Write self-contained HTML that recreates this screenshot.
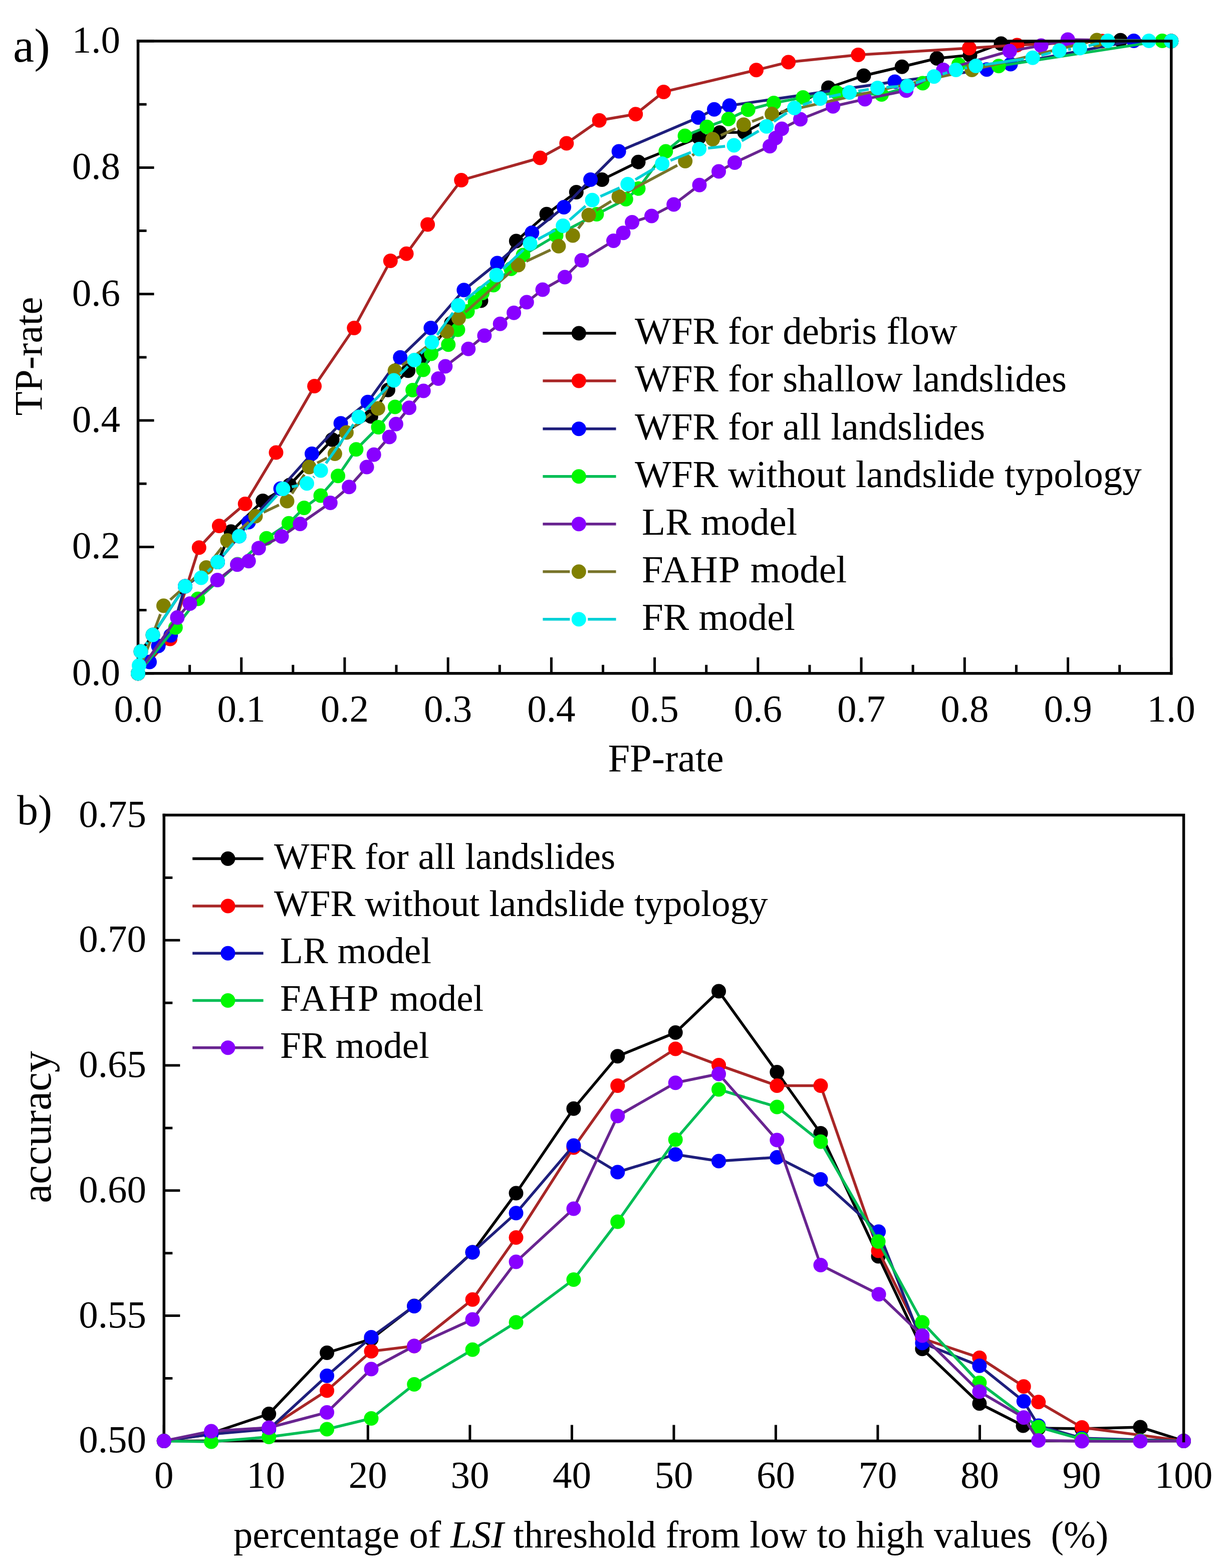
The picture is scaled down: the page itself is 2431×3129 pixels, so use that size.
<!DOCTYPE html>
<html><head><meta charset="utf-8"><title>ROC and accuracy curves</title>
<style>html,body{margin:0;padding:0;background:#fff;} svg{display:block;}</style>
</head><body>
<svg width="2431" height="3129" viewBox="0 0 2431 3129"><rect width="100%" height="100%" fill="#fff"/><path d="M275.5 1343.8 h32 M275.5 1217.6 h17 M275.5 1091.4 h32 M275.5 965.3 h17 M275.5 839.1 h32 M275.5 712.9 h17 M275.5 586.7 h32 M275.5 460.5 h17 M275.5 334.4 h32 M275.5 208.2 h17 M275.5 82 h32 M275.5 1343.8 v-32 M378.6 1343.8 v-17 M481.7 1343.8 v-32 M584.8 1343.8 v-17 M687.9 1343.8 v-32 M791 1343.8 v-17 M894.2 1343.8 v-32 M997.3 1343.8 v-17 M1100.4 1343.8 v-32 M1203.5 1343.8 v-17 M1306.6 1343.8 v-32 M1409.7 1343.8 v-17 M1512.8 1343.8 v-32 M1615.9 1343.8 v-17 M1719 1343.8 v-32 M1822.1 1343.8 v-17 M1925.3 1343.8 v-32 M2028.4 1343.8 v-17 M2131.5 1343.8 v-32 M2234.6 1343.8 v-17 M2337.7 1343.8 v-32" stroke="#000" stroke-width="5" fill="none"/><path d="M275.5 79.2 V1343.8 H2340.4" stroke="#000" stroke-width="5.5" fill="none"/><path d="M275.5 1343.8 L281 1300 L305 1267 L369.5 1170 L434.5 1121.5 L461 1060.8 L524.6 999.5 L578 968 L663.1 877.3 L740.4 831 L774.5 778.3 L814.7 739.7 L845 714 L900.7 645 L960 600 L1030.3 481 L1091 427.2 L1150.3 383.4 L1201.5 358.6 L1274 323.2 L1395 274.5 L1436.5 264.5 L1486 264 L1653.5 175 L1724 151 L1800.2 133.2 L1870 116.5 L1936 110 L1998 87 L2236.3 80.2 L2337.7 82" fill="none" stroke="#000000" stroke-width="5.5" stroke-linejoin="round"/>
<g fill="#000000"><circle cx="275.5" cy="1343.8" r="14.5"/><circle cx="281" cy="1300" r="14.5"/><circle cx="305" cy="1267" r="14.5"/><circle cx="369.5" cy="1170" r="14.5"/><circle cx="434.5" cy="1121.5" r="14.5"/><circle cx="461" cy="1060.8" r="14.5"/><circle cx="524.6" cy="999.5" r="14.5"/><circle cx="578" cy="968" r="14.5"/><circle cx="663.1" cy="877.3" r="14.5"/><circle cx="740.4" cy="831" r="14.5"/><circle cx="774.5" cy="778.3" r="14.5"/><circle cx="814.7" cy="739.7" r="14.5"/><circle cx="845" cy="714" r="14.5"/><circle cx="900.7" cy="645" r="14.5"/><circle cx="960" cy="600" r="14.5"/><circle cx="1030.3" cy="481" r="14.5"/><circle cx="1091" cy="427.2" r="14.5"/><circle cx="1150.3" cy="383.4" r="14.5"/><circle cx="1201.5" cy="358.6" r="14.5"/><circle cx="1274" cy="323.2" r="14.5"/><circle cx="1395" cy="274.5" r="14.5"/><circle cx="1436.5" cy="264.5" r="14.5"/><circle cx="1486" cy="264" r="14.5"/><circle cx="1653.5" cy="175" r="14.5"/><circle cx="1724" cy="151" r="14.5"/><circle cx="1800.2" cy="133.2" r="14.5"/><circle cx="1870" cy="116.5" r="14.5"/><circle cx="1936" cy="110" r="14.5"/><circle cx="1998" cy="87" r="14.5"/><circle cx="2236.3" cy="80.2" r="14.5"/><circle cx="2337.7" cy="82" r="14.5"/></g>
<path d="M275.5 1343.8 L339.5 1275 L397.3 1092.7 L437.4 1049.6 L489.2 1005.5 L551 903 L627.6 770.5 L706.8 654.5 L779.3 520.5 L811.1 506.3 L853.6 448 L920.7 359.6 L1077.9 315 L1130.8 286.1 L1196.2 240.2 L1268.7 227.8 L1324.5 183.4 L1509.5 139.8 L1573.6 124 L1712.8 109.6 L1934.5 96 L2030 90 L2200 82 L2337.7 82" fill="none" stroke="#a82626" stroke-width="5.5" stroke-linejoin="round"/>
<g fill="#ff0000"><circle cx="275.5" cy="1343.8" r="14.5"/><circle cx="339.5" cy="1275" r="14.5"/><circle cx="397.3" cy="1092.7" r="14.5"/><circle cx="437.4" cy="1049.6" r="14.5"/><circle cx="489.2" cy="1005.5" r="14.5"/><circle cx="551" cy="903" r="14.5"/><circle cx="627.6" cy="770.5" r="14.5"/><circle cx="706.8" cy="654.5" r="14.5"/><circle cx="779.3" cy="520.5" r="14.5"/><circle cx="811.1" cy="506.3" r="14.5"/><circle cx="853.6" cy="448" r="14.5"/><circle cx="920.7" cy="359.6" r="14.5"/><circle cx="1077.9" cy="315" r="14.5"/><circle cx="1130.8" cy="286.1" r="14.5"/><circle cx="1196.2" cy="240.2" r="14.5"/><circle cx="1268.7" cy="227.8" r="14.5"/><circle cx="1324.5" cy="183.4" r="14.5"/><circle cx="1509.5" cy="139.8" r="14.5"/><circle cx="1573.6" cy="124" r="14.5"/><circle cx="1712.8" cy="109.6" r="14.5"/><circle cx="1934.5" cy="96" r="14.5"/><circle cx="2030" cy="90" r="14.5"/><circle cx="2200" cy="82" r="14.5"/><circle cx="2337.7" cy="82" r="14.5"/></g>
<path d="M275.5 1343.8 L298.5 1321 L316 1289 L340.6 1268 L369.5 1170 L434.5 1121.5 L477.4 1070 L496.3 1041.9 L560 975 L622.5 905.6 L680.1 844.8 L734.1 802.3 L798.8 713.2 L859.9 654.5 L925.9 578.8 L992.6 525 L1061.7 464.5 L1125.5 413.4 L1178.6 358.6 L1235.1 302 L1393.6 234.6 L1425.5 218.3 L1456 210.7 L1786 163 L1969.4 138.8 L2017 128 L2262.9 81.4 L2337.7 82" fill="none" stroke="#1e1e7c" stroke-width="5.5" stroke-linejoin="round"/>
<g fill="#0000ff"><circle cx="275.5" cy="1343.8" r="14.5"/><circle cx="298.5" cy="1321" r="14.5"/><circle cx="316" cy="1289" r="14.5"/><circle cx="340.6" cy="1268" r="14.5"/><circle cx="369.5" cy="1170" r="14.5"/><circle cx="434.5" cy="1121.5" r="14.5"/><circle cx="477.4" cy="1070" r="14.5"/><circle cx="496.3" cy="1041.9" r="14.5"/><circle cx="560" cy="975" r="14.5"/><circle cx="622.5" cy="905.6" r="14.5"/><circle cx="680.1" cy="844.8" r="14.5"/><circle cx="734.1" cy="802.3" r="14.5"/><circle cx="798.8" cy="713.2" r="14.5"/><circle cx="859.9" cy="654.5" r="14.5"/><circle cx="925.9" cy="578.8" r="14.5"/><circle cx="992.6" cy="525" r="14.5"/><circle cx="1061.7" cy="464.5" r="14.5"/><circle cx="1125.5" cy="413.4" r="14.5"/><circle cx="1178.6" cy="358.6" r="14.5"/><circle cx="1235.1" cy="302" r="14.5"/><circle cx="1393.6" cy="234.6" r="14.5"/><circle cx="1425.5" cy="218.3" r="14.5"/><circle cx="1456" cy="210.7" r="14.5"/><circle cx="1786" cy="163" r="14.5"/><circle cx="1969.4" cy="138.8" r="14.5"/><circle cx="2017" cy="128" r="14.5"/><circle cx="2262.9" cy="81.4" r="14.5"/><circle cx="2337.7" cy="82" r="14.5"/></g>
<path d="M275.5 1343.8 L350.3 1252.3 L394.9 1195.1 L474 1126 L531.9 1074.2 L576.4 1044.3 L607 1013.4 L640 989 L674.6 949.8 L710.9 896.7 L755 852.5 L788.4 812 L823.7 778.5 L844.7 737.9 L860.6 706.1 L894.8 687.8 L914 658 L933.1 621.5 L948 603 L962.6 584.7 L985 569 L1019.7 536.4 L1044 509 L1110 470 L1190.9 427.6 L1249.3 397.5 L1274 376.3 L1328.8 302 L1367 271 L1411 253.3 L1454 237.4 L1493.2 219 L1544.4 205.5 L1602.7 194.5 L1670.6 185 L1759.5 188.6 L1841.7 166.1 L1913.3 129 L1993.2 131.8 L2319.7 81.4 L2337.7 82" fill="none" stroke="#00be55" stroke-width="5.5" stroke-linejoin="round"/>
<g fill="#00f800"><circle cx="275.5" cy="1343.8" r="14.5"/><circle cx="350.3" cy="1252.3" r="14.5"/><circle cx="394.9" cy="1195.1" r="14.5"/><circle cx="474" cy="1126" r="14.5"/><circle cx="531.9" cy="1074.2" r="14.5"/><circle cx="576.4" cy="1044.3" r="14.5"/><circle cx="607" cy="1013.4" r="14.5"/><circle cx="640" cy="989" r="14.5"/><circle cx="674.6" cy="949.8" r="14.5"/><circle cx="710.9" cy="896.7" r="14.5"/><circle cx="755" cy="852.5" r="14.5"/><circle cx="788.4" cy="812" r="14.5"/><circle cx="823.7" cy="778.5" r="14.5"/><circle cx="844.7" cy="737.9" r="14.5"/><circle cx="860.6" cy="706.1" r="14.5"/><circle cx="894.8" cy="687.8" r="14.5"/><circle cx="914" cy="658" r="14.5"/><circle cx="933.1" cy="621.5" r="14.5"/><circle cx="948" cy="603" r="14.5"/><circle cx="962.6" cy="584.7" r="14.5"/><circle cx="985" cy="569" r="14.5"/><circle cx="1019.7" cy="536.4" r="14.5"/><circle cx="1044" cy="509" r="14.5"/><circle cx="1110" cy="470" r="14.5"/><circle cx="1190.9" cy="427.6" r="14.5"/><circle cx="1249.3" cy="397.5" r="14.5"/><circle cx="1274" cy="376.3" r="14.5"/><circle cx="1328.8" cy="302" r="14.5"/><circle cx="1367" cy="271" r="14.5"/><circle cx="1411" cy="253.3" r="14.5"/><circle cx="1454" cy="237.4" r="14.5"/><circle cx="1493.2" cy="219" r="14.5"/><circle cx="1544.4" cy="205.5" r="14.5"/><circle cx="1602.7" cy="194.5" r="14.5"/><circle cx="1670.6" cy="185" r="14.5"/><circle cx="1759.5" cy="188.6" r="14.5"/><circle cx="1841.7" cy="166.1" r="14.5"/><circle cx="1913.3" cy="129" r="14.5"/><circle cx="1993.2" cy="131.8" r="14.5"/><circle cx="2319.7" cy="81.4" r="14.5"/><circle cx="2337.7" cy="82" r="14.5"/></g>
<path d="M275.5 1343.8 L353.9 1232.2 L379 1204.5 L434 1157.6 L473.5 1126.7 L496.3 1119.7 L516.3 1093.8 L562 1070.4 L598.9 1045.4 L659.3 1003.5 L696.7 971.8 L732.1 932.1 L746.2 907.3 L777.2 872 L790.4 846.3 L816.6 813.8 L845.2 780.1 L874.8 755.6 L888.9 730.9 L934.8 696.2 L966.9 669.7 L998.2 646.3 L1025.6 624.2 L1051.3 603 L1083 578 L1127.3 553.1 L1160.9 519.5 L1224.5 480.6 L1244 464.7 L1261.6 443.5 L1300.5 431.1 L1344.7 408.1 L1396 369.2 L1434.5 342 L1466.5 324.6 L1536.5 291.8 L1548 275.5 L1560.4 257 L1597.5 238 L1662.6 212.3 L1726.3 197.9 L1808.5 180.7 L1882.8 139.6 L2015.2 102 L2078 91 L2131.2 79 L2337.7 82" fill="none" stroke="#682490" stroke-width="5.5" stroke-linejoin="round"/>
<g fill="#8800ff"><circle cx="275.5" cy="1343.8" r="14.5"/><circle cx="353.9" cy="1232.2" r="14.5"/><circle cx="379" cy="1204.5" r="14.5"/><circle cx="434" cy="1157.6" r="14.5"/><circle cx="473.5" cy="1126.7" r="14.5"/><circle cx="496.3" cy="1119.7" r="14.5"/><circle cx="516.3" cy="1093.8" r="14.5"/><circle cx="562" cy="1070.4" r="14.5"/><circle cx="598.9" cy="1045.4" r="14.5"/><circle cx="659.3" cy="1003.5" r="14.5"/><circle cx="696.7" cy="971.8" r="14.5"/><circle cx="732.1" cy="932.1" r="14.5"/><circle cx="746.2" cy="907.3" r="14.5"/><circle cx="777.2" cy="872" r="14.5"/><circle cx="790.4" cy="846.3" r="14.5"/><circle cx="816.6" cy="813.8" r="14.5"/><circle cx="845.2" cy="780.1" r="14.5"/><circle cx="874.8" cy="755.6" r="14.5"/><circle cx="888.9" cy="730.9" r="14.5"/><circle cx="934.8" cy="696.2" r="14.5"/><circle cx="966.9" cy="669.7" r="14.5"/><circle cx="998.2" cy="646.3" r="14.5"/><circle cx="1025.6" cy="624.2" r="14.5"/><circle cx="1051.3" cy="603" r="14.5"/><circle cx="1083" cy="578" r="14.5"/><circle cx="1127.3" cy="553.1" r="14.5"/><circle cx="1160.9" cy="519.5" r="14.5"/><circle cx="1224.5" cy="480.6" r="14.5"/><circle cx="1244" cy="464.7" r="14.5"/><circle cx="1261.6" cy="443.5" r="14.5"/><circle cx="1300.5" cy="431.1" r="14.5"/><circle cx="1344.7" cy="408.1" r="14.5"/><circle cx="1396" cy="369.2" r="14.5"/><circle cx="1434.5" cy="342" r="14.5"/><circle cx="1466.5" cy="324.6" r="14.5"/><circle cx="1536.5" cy="291.8" r="14.5"/><circle cx="1548" cy="275.5" r="14.5"/><circle cx="1560.4" cy="257" r="14.5"/><circle cx="1597.5" cy="238" r="14.5"/><circle cx="1662.6" cy="212.3" r="14.5"/><circle cx="1726.3" cy="197.9" r="14.5"/><circle cx="1808.5" cy="180.7" r="14.5"/><circle cx="1882.8" cy="139.6" r="14.5"/><circle cx="2015.2" cy="102" r="14.5"/><circle cx="2078" cy="91" r="14.5"/><circle cx="2131.2" cy="79" r="14.5"/><circle cx="2337.7" cy="82" r="14.5"/></g>
<mask id="g1" maskUnits="userSpaceOnUse" x="0" y="0" width="2431" height="3129"><rect width="2431" height="3129" fill="#fff"/><circle cx="275.5" cy="1343.8" r="18.0" fill="#000"/><circle cx="326.5" cy="1208.8" r="18.0" fill="#000"/><circle cx="411.7" cy="1132.5" r="18.0" fill="#000"/><circle cx="453.9" cy="1078.5" r="18.0" fill="#000"/><circle cx="510" cy="1030" r="18.0" fill="#000"/><circle cx="573" cy="1000" r="18.0" fill="#000"/><circle cx="617.2" cy="932.1" r="18.0" fill="#000"/><circle cx="668.4" cy="905.6" r="18.0" fill="#000"/><circle cx="691.4" cy="863.1" r="18.0" fill="#000"/><circle cx="754.4" cy="815" r="18.0" fill="#000"/><circle cx="788.2" cy="739.7" r="18.0" fill="#000"/><circle cx="891.9" cy="661.3" r="18.0" fill="#000"/><circle cx="915.4" cy="635" r="18.0" fill="#000"/><circle cx="1034.3" cy="529" r="18.0" fill="#000"/><circle cx="1114.9" cy="491.2" r="18.0" fill="#000"/><circle cx="1143.2" cy="470" r="18.0" fill="#000"/><circle cx="1175" cy="429.3" r="18.0" fill="#000"/><circle cx="1235.1" cy="392.2" r="18.0" fill="#000"/><circle cx="1367.7" cy="321.5" r="18.0" fill="#000"/><circle cx="1422.5" cy="277.8" r="18.0" fill="#000"/><circle cx="1484.3" cy="248.7" r="18.0" fill="#000"/><circle cx="1540.6" cy="227.5" r="18.0" fill="#000"/><circle cx="1939.8" cy="139.6" r="18.0" fill="#000"/><circle cx="2189.2" cy="80" r="18.0" fill="#000"/><circle cx="2337.7" cy="82" r="18.0" fill="#000"/></mask><path d="M275.5 1343.8 L326.5 1208.8 L411.7 1132.5 L453.9 1078.5 L510 1030 L573 1000 L617.2 932.1 L668.4 905.6 L691.4 863.1 L754.4 815 L788.2 739.7 L891.9 661.3 L915.4 635 L1034.3 529 L1114.9 491.2 L1143.2 470 L1175 429.3 L1235.1 392.2 L1367.7 321.5 L1422.5 277.8 L1484.3 248.7 L1540.6 227.5 L1939.8 139.6 L2189.2 80 L2337.7 82" fill="none" stroke="#78742a" stroke-width="5.5" stroke-linejoin="round" mask="url(#g1)"/>
<g fill="#808000"><circle cx="275.5" cy="1343.8" r="14.5"/><circle cx="326.5" cy="1208.8" r="14.5"/><circle cx="411.7" cy="1132.5" r="14.5"/><circle cx="453.9" cy="1078.5" r="14.5"/><circle cx="510" cy="1030" r="14.5"/><circle cx="573" cy="1000" r="14.5"/><circle cx="617.2" cy="932.1" r="14.5"/><circle cx="668.4" cy="905.6" r="14.5"/><circle cx="691.4" cy="863.1" r="14.5"/><circle cx="754.4" cy="815" r="14.5"/><circle cx="788.2" cy="739.7" r="14.5"/><circle cx="891.9" cy="661.3" r="14.5"/><circle cx="915.4" cy="635" r="14.5"/><circle cx="1034.3" cy="529" r="14.5"/><circle cx="1114.9" cy="491.2" r="14.5"/><circle cx="1143.2" cy="470" r="14.5"/><circle cx="1175" cy="429.3" r="14.5"/><circle cx="1235.1" cy="392.2" r="14.5"/><circle cx="1367.7" cy="321.5" r="14.5"/><circle cx="1422.5" cy="277.8" r="14.5"/><circle cx="1484.3" cy="248.7" r="14.5"/><circle cx="1540.6" cy="227.5" r="14.5"/><circle cx="1939.8" cy="139.6" r="14.5"/><circle cx="2189.2" cy="80" r="14.5"/><circle cx="2337.7" cy="82" r="14.5"/></g>
<mask id="g2" maskUnits="userSpaceOnUse" x="0" y="0" width="2431" height="3129"><rect width="2431" height="3129" fill="#fff"/><circle cx="275.5" cy="1343.8" r="18.0" fill="#000"/><circle cx="277.5" cy="1328" r="18.0" fill="#000"/><circle cx="281" cy="1300" r="18.0" fill="#000"/><circle cx="305" cy="1267" r="18.0" fill="#000"/><circle cx="369.5" cy="1170" r="18.0" fill="#000"/><circle cx="401.5" cy="1153" r="18.0" fill="#000"/><circle cx="434.5" cy="1121.5" r="18.0" fill="#000"/><circle cx="477.4" cy="1070" r="18.0" fill="#000"/><circle cx="565" cy="975.5" r="18.0" fill="#000"/><circle cx="612.5" cy="964.8" r="18.0" fill="#000"/><circle cx="640.2" cy="939.1" r="18.0" fill="#000"/><circle cx="716" cy="832" r="18.0" fill="#000"/><circle cx="786" cy="759" r="18.0" fill="#000"/><circle cx="827" cy="718.5" r="18.0" fill="#000"/><circle cx="862" cy="683" r="18.0" fill="#000"/><circle cx="914.5" cy="609.5" r="18.0" fill="#000"/><circle cx="991" cy="549" r="18.0" fill="#000"/><circle cx="1058" cy="486" r="18.0" fill="#000"/><circle cx="1123.7" cy="450.5" r="18.0" fill="#000"/><circle cx="1182.1" cy="399.3" r="18.0" fill="#000"/><circle cx="1252.8" cy="367.4" r="18.0" fill="#000"/><circle cx="1321.7" cy="326.8" r="18.0" fill="#000"/><circle cx="1395.5" cy="297.5" r="18.0" fill="#000"/><circle cx="1465" cy="290" r="18.0" fill="#000"/><circle cx="1529.8" cy="252.3" r="18.0" fill="#000"/><circle cx="1585.5" cy="215.5" r="18.0" fill="#000"/><circle cx="1637" cy="196.8" r="18.0" fill="#000"/><circle cx="1695.5" cy="184.5" r="18.0" fill="#000"/><circle cx="1751.5" cy="175.4" r="18.0" fill="#000"/><circle cx="1811.2" cy="171.4" r="18.0" fill="#000"/><circle cx="1864.2" cy="152.8" r="18.0" fill="#000"/><circle cx="1908" cy="139.6" r="18.0" fill="#000"/><circle cx="1947.8" cy="131.6" r="18.0" fill="#000"/><circle cx="2061.1" cy="115.2" r="18.0" fill="#000"/><circle cx="2114.3" cy="100.7" r="18.0" fill="#000"/><circle cx="2155.4" cy="95.9" r="18.0" fill="#000"/><circle cx="2211" cy="81.4" r="18.0" fill="#000"/><circle cx="2293" cy="81.4" r="18.0" fill="#000"/><circle cx="2337.7" cy="82" r="18.0" fill="#000"/></mask><path d="M275.5 1343.8 L277.5 1328 L281 1300 L305 1267 L369.5 1170 L401.5 1153 L434.5 1121.5 L477.4 1070 L565 975.5 L612.5 964.8 L640.2 939.1 L716 832 L786 759 L827 718.5 L862 683 L914.5 609.5 L991 549 L1058 486 L1123.7 450.5 L1182.1 399.3 L1252.8 367.4 L1321.7 326.8 L1395.5 297.5 L1465 290 L1529.8 252.3 L1585.5 215.5 L1637 196.8 L1695.5 184.5 L1751.5 175.4 L1811.2 171.4 L1864.2 152.8 L1908 139.6 L1947.8 131.6 L2061.1 115.2 L2114.3 100.7 L2155.4 95.9 L2211 81.4 L2293 81.4 L2337.7 82" fill="none" stroke="#00d0d6" stroke-width="5.5" stroke-linejoin="round" mask="url(#g2)"/>
<g fill="#00ffff"><circle cx="275.5" cy="1343.8" r="14.5"/><circle cx="277.5" cy="1328" r="14.5"/><circle cx="281" cy="1300" r="14.5"/><circle cx="305" cy="1267" r="14.5"/><circle cx="369.5" cy="1170" r="14.5"/><circle cx="401.5" cy="1153" r="14.5"/><circle cx="434.5" cy="1121.5" r="14.5"/><circle cx="477.4" cy="1070" r="14.5"/><circle cx="565" cy="975.5" r="14.5"/><circle cx="612.5" cy="964.8" r="14.5"/><circle cx="640.2" cy="939.1" r="14.5"/><circle cx="716" cy="832" r="14.5"/><circle cx="786" cy="759" r="14.5"/><circle cx="827" cy="718.5" r="14.5"/><circle cx="862" cy="683" r="14.5"/><circle cx="914.5" cy="609.5" r="14.5"/><circle cx="991" cy="549" r="14.5"/><circle cx="1058" cy="486" r="14.5"/><circle cx="1123.7" cy="450.5" r="14.5"/><circle cx="1182.1" cy="399.3" r="14.5"/><circle cx="1252.8" cy="367.4" r="14.5"/><circle cx="1321.7" cy="326.8" r="14.5"/><circle cx="1395.5" cy="297.5" r="14.5"/><circle cx="1465" cy="290" r="14.5"/><circle cx="1529.8" cy="252.3" r="14.5"/><circle cx="1585.5" cy="215.5" r="14.5"/><circle cx="1637" cy="196.8" r="14.5"/><circle cx="1695.5" cy="184.5" r="14.5"/><circle cx="1751.5" cy="175.4" r="14.5"/><circle cx="1811.2" cy="171.4" r="14.5"/><circle cx="1864.2" cy="152.8" r="14.5"/><circle cx="1908" cy="139.6" r="14.5"/><circle cx="1947.8" cy="131.6" r="14.5"/><circle cx="2061.1" cy="115.2" r="14.5"/><circle cx="2114.3" cy="100.7" r="14.5"/><circle cx="2155.4" cy="95.9" r="14.5"/><circle cx="2211" cy="81.4" r="14.5"/><circle cx="2293" cy="81.4" r="14.5"/><circle cx="2337.7" cy="82" r="14.5"/></g>
<path d="M272.8 82 H2337.7 V1346.5" stroke="#000" stroke-width="5.5" fill="none"/><text x="240" y="1366.8" font-family="'Liberation Serif', serif" font-size="77" text-anchor="end">0.0</text><text x="240" y="1114.4" font-family="'Liberation Serif', serif" font-size="77" text-anchor="end">0.2</text><text x="240" y="862.1" font-family="'Liberation Serif', serif" font-size="77" text-anchor="end">0.4</text><text x="240" y="609.7" font-family="'Liberation Serif', serif" font-size="77" text-anchor="end">0.6</text><text x="240" y="357.4" font-family="'Liberation Serif', serif" font-size="77" text-anchor="end">0.8</text><text x="240" y="105" font-family="'Liberation Serif', serif" font-size="77" text-anchor="end">1.0</text><text x="275.5" y="1440" font-family="'Liberation Serif', serif" font-size="77" text-anchor="middle">0.0</text><text x="481.7" y="1440" font-family="'Liberation Serif', serif" font-size="77" text-anchor="middle">0.1</text><text x="687.9" y="1440" font-family="'Liberation Serif', serif" font-size="77" text-anchor="middle">0.2</text><text x="894.2" y="1440" font-family="'Liberation Serif', serif" font-size="77" text-anchor="middle">0.3</text><text x="1100.4" y="1440" font-family="'Liberation Serif', serif" font-size="77" text-anchor="middle">0.4</text><text x="1306.6" y="1440" font-family="'Liberation Serif', serif" font-size="77" text-anchor="middle">0.5</text><text x="1512.8" y="1440" font-family="'Liberation Serif', serif" font-size="77" text-anchor="middle">0.6</text><text x="1719" y="1440" font-family="'Liberation Serif', serif" font-size="77" text-anchor="middle">0.7</text><text x="1925.3" y="1440" font-family="'Liberation Serif', serif" font-size="77" text-anchor="middle">0.8</text><text x="2131.5" y="1440" font-family="'Liberation Serif', serif" font-size="77" text-anchor="middle">0.9</text><text x="2337.7" y="1440" font-family="'Liberation Serif', serif" font-size="77" text-anchor="middle">1.0</text><text x="1329" y="1539" font-family="'Liberation Serif', serif" font-size="78.5" text-anchor="middle">FP-rate</text><text transform="translate(83 711) rotate(-90)" font-family="'Liberation Serif', serif" font-size="79" text-anchor="middle">TP-rate</text><text x="26" y="122.5" font-family="'Liberation Serif', serif" font-size="95">a)</text><line x1="1083.4" y1="665" x2="1229.5" y2="665" stroke="#000000" stroke-width="5.5"/><circle cx="1155.3" cy="665" r="14.5" fill="#000000"/>
<text x="1267" y="686" font-family="'Liberation Serif', serif" font-size="77">WFR for debris flow</text><line x1="1083.4" y1="759.9" x2="1229.5" y2="759.9" stroke="#a82626" stroke-width="5.5"/><circle cx="1155.3" cy="759.9" r="14.5" fill="#ff0000"/>
<text x="1267" y="780.9" font-family="'Liberation Serif', serif" font-size="77">WFR for shallow landslides</text><line x1="1083.4" y1="855.7" x2="1229.5" y2="855.7" stroke="#1e1e7c" stroke-width="5.5"/><circle cx="1155.3" cy="855.7" r="14.5" fill="#0000ff"/>
<text x="1267" y="876.7" font-family="'Liberation Serif', serif" font-size="77">WFR for all landslides</text><line x1="1083.4" y1="950.8" x2="1229.5" y2="950.8" stroke="#00be55" stroke-width="5.5"/><circle cx="1155.3" cy="950.8" r="14.5" fill="#00f800"/>
<text x="1267" y="971.8" font-family="'Liberation Serif', serif" font-size="77">WFR without landslide typology</text><line x1="1083.4" y1="1045.7" x2="1229.5" y2="1045.7" stroke="#682490" stroke-width="5.5"/><circle cx="1155.3" cy="1045.7" r="14.5" fill="#8800ff"/>
<text x="1281" y="1066.7" font-family="'Liberation Serif', serif" font-size="77">LR model</text><line x1="1083.4" y1="1140.7" x2="1137.3" y2="1140.7" stroke="#78742a" stroke-width="5.5"/><line x1="1173.3" y1="1140.7" x2="1229.5" y2="1140.7" stroke="#78742a" stroke-width="5.5"/><circle cx="1155.3" cy="1140.7" r="14.5" fill="#808000"/>
<text x="1281" y="1161.7" font-family="'Liberation Serif', serif" font-size="77"><tspan letter-spacing="1.6">FAHP</tspan> model</text><line x1="1083.4" y1="1235.7" x2="1137.3" y2="1235.7" stroke="#00d0d6" stroke-width="5.5"/><line x1="1173.3" y1="1235.7" x2="1229.5" y2="1235.7" stroke="#00d0d6" stroke-width="5.5"/><circle cx="1155.3" cy="1235.7" r="14.5" fill="#00ffff"/>
<text x="1281" y="1256.7" font-family="'Liberation Serif', serif" font-size="77">FR model</text><path d="M327.3 2875.4 h32 M327.3 2750.5 h17 M327.3 2625.6 h32 M327.3 2500.7 h17 M327.3 2375.8 h32 M327.3 2250.9 h17 M327.3 2126.1 h32 M327.3 2001.2 h17 M327.3 1876.3 h32 M327.3 1751.4 h17 M327.3 1626.5 h32 M327.3 2875.4 v-32 M530.8 2875.4 v-32 M734.3 2875.4 v-32 M937.9 2875.4 v-32 M1141.4 2875.4 v-32 M1344.9 2875.4 v-32 M1548.4 2875.4 v-32 M1751.9 2875.4 v-32 M1955.5 2875.4 v-32 M2159 2875.4 v-32 M2362.5 2875.4 v-32" stroke="#000" stroke-width="5" fill="none"/><path d="M327.3 1623.8 V2875.4 H2365.2" stroke="#000" stroke-width="5.5" fill="none"/><path d="M327.3 2875.4 L421.6 2860 L536.7 2821.5 L652.6 2699.6 L741 2672 L826.7 2606 L943.1 2499 L1030 2381 L1144.9 2212.3 L1232.7 2107.7 L1348.2 2060.6 L1434.5 1978.1 L1550.8 2139.5 L1637.9 2261.5 L1753 2507 L1840.8 2691.7 L1954.9 2800.7 L2042 2845 L2072.7 2850 L2159 2851 L2275.9 2848 L2362.5 2875.4" fill="none" stroke="#000000" stroke-width="5.5" stroke-linejoin="round"/>
<g fill="#000000"><circle cx="327.3" cy="2875.4" r="14.5"/><circle cx="421.6" cy="2860" r="14.5"/><circle cx="536.7" cy="2821.5" r="14.5"/><circle cx="652.6" cy="2699.6" r="14.5"/><circle cx="741" cy="2672" r="14.5"/><circle cx="826.7" cy="2606" r="14.5"/><circle cx="943.1" cy="2499" r="14.5"/><circle cx="1030" cy="2381" r="14.5"/><circle cx="1144.9" cy="2212.3" r="14.5"/><circle cx="1232.7" cy="2107.7" r="14.5"/><circle cx="1348.2" cy="2060.6" r="14.5"/><circle cx="1434.5" cy="1978.1" r="14.5"/><circle cx="1550.8" cy="2139.5" r="14.5"/><circle cx="1637.9" cy="2261.5" r="14.5"/><circle cx="1753" cy="2507" r="14.5"/><circle cx="1840.8" cy="2691.7" r="14.5"/><circle cx="1954.9" cy="2800.7" r="14.5"/><circle cx="2042" cy="2845" r="14.5"/><circle cx="2072.7" cy="2850" r="14.5"/><circle cx="2159" cy="2851" r="14.5"/><circle cx="2275.9" cy="2848" r="14.5"/><circle cx="2362.5" cy="2875.4" r="14.5"/></g>
<path d="M327.3 2875.4 L421.6 2862 L536.7 2850 L652.6 2775 L741 2696.5 L826.7 2686 L943.1 2593.2 L1030 2469.4 L1144.9 2290 L1232.7 2166.6 L1348.2 2093 L1434.5 2125.4 L1550.8 2166.5 L1637.9 2166.4 L1753 2496 L1840.8 2671 L1954.9 2709.4 L2043.2 2766.8 L2072.7 2797.8 L2159.4 2848.5 L2362.5 2875.4" fill="none" stroke="#a82626" stroke-width="5.5" stroke-linejoin="round"/>
<g fill="#ff0000"><circle cx="327.3" cy="2875.4" r="14.5"/><circle cx="421.6" cy="2862" r="14.5"/><circle cx="536.7" cy="2850" r="14.5"/><circle cx="652.6" cy="2775" r="14.5"/><circle cx="741" cy="2696.5" r="14.5"/><circle cx="826.7" cy="2686" r="14.5"/><circle cx="943.1" cy="2593.2" r="14.5"/><circle cx="1030" cy="2469.4" r="14.5"/><circle cx="1144.9" cy="2290" r="14.5"/><circle cx="1232.7" cy="2166.6" r="14.5"/><circle cx="1348.2" cy="2093" r="14.5"/><circle cx="1434.5" cy="2125.4" r="14.5"/><circle cx="1550.8" cy="2166.5" r="14.5"/><circle cx="1637.9" cy="2166.4" r="14.5"/><circle cx="1753" cy="2496" r="14.5"/><circle cx="1840.8" cy="2671" r="14.5"/><circle cx="1954.9" cy="2709.4" r="14.5"/><circle cx="2043.2" cy="2766.8" r="14.5"/><circle cx="2072.7" cy="2797.8" r="14.5"/><circle cx="2159.4" cy="2848.5" r="14.5"/><circle cx="2362.5" cy="2875.4" r="14.5"/></g>
<path d="M327.3 2875.4 L421.6 2862 L536.7 2852 L652.6 2745.5 L741 2668.5 L826.7 2606.4 L943.1 2499 L1030 2420.8 L1144.9 2286 L1232.7 2339 L1348.2 2303.7 L1434.5 2317 L1550.8 2309.4 L1637.9 2353.5 L1753.5 2457.7 L1840.8 2680 L1954.9 2725.6 L2043.2 2796.3 L2072.7 2845 L2159 2870 L2362.5 2875.4" fill="none" stroke="#1e1e7c" stroke-width="5.5" stroke-linejoin="round"/>
<g fill="#0000ff"><circle cx="327.3" cy="2875.4" r="14.5"/><circle cx="421.6" cy="2862" r="14.5"/><circle cx="536.7" cy="2852" r="14.5"/><circle cx="652.6" cy="2745.5" r="14.5"/><circle cx="741" cy="2668.5" r="14.5"/><circle cx="826.7" cy="2606.4" r="14.5"/><circle cx="943.1" cy="2499" r="14.5"/><circle cx="1030" cy="2420.8" r="14.5"/><circle cx="1144.9" cy="2286" r="14.5"/><circle cx="1232.7" cy="2339" r="14.5"/><circle cx="1348.2" cy="2303.7" r="14.5"/><circle cx="1434.5" cy="2317" r="14.5"/><circle cx="1550.8" cy="2309.4" r="14.5"/><circle cx="1637.9" cy="2353.5" r="14.5"/><circle cx="1753.5" cy="2457.7" r="14.5"/><circle cx="1840.8" cy="2680" r="14.5"/><circle cx="1954.9" cy="2725.6" r="14.5"/><circle cx="2043.2" cy="2796.3" r="14.5"/><circle cx="2072.7" cy="2845" r="14.5"/><circle cx="2159" cy="2870" r="14.5"/><circle cx="2362.5" cy="2875.4" r="14.5"/></g>
<path d="M327.3 2875.4 L421.6 2877 L536.7 2867.5 L652.6 2852 L741 2830.5 L826.7 2762.6 L943.1 2693.3 L1030 2638.8 L1144.9 2553.4 L1232.7 2438 L1348.2 2274.2 L1434.5 2174 L1550.8 2209 L1637.9 2278.3 L1753 2477.5 L1840.8 2638.7 L1954.9 2759.5 L2072.7 2847.8 L2159 2872 L2275.9 2875 L2362.5 2875.4" fill="none" stroke="#00be55" stroke-width="5.5" stroke-linejoin="round"/>
<g fill="#00f800"><circle cx="327.3" cy="2875.4" r="14.5"/><circle cx="421.6" cy="2877" r="14.5"/><circle cx="536.7" cy="2867.5" r="14.5"/><circle cx="652.6" cy="2852" r="14.5"/><circle cx="741" cy="2830.5" r="14.5"/><circle cx="826.7" cy="2762.6" r="14.5"/><circle cx="943.1" cy="2693.3" r="14.5"/><circle cx="1030" cy="2638.8" r="14.5"/><circle cx="1144.9" cy="2553.4" r="14.5"/><circle cx="1232.7" cy="2438" r="14.5"/><circle cx="1348.2" cy="2274.2" r="14.5"/><circle cx="1434.5" cy="2174" r="14.5"/><circle cx="1550.8" cy="2209" r="14.5"/><circle cx="1637.9" cy="2278.3" r="14.5"/><circle cx="1753" cy="2477.5" r="14.5"/><circle cx="1840.8" cy="2638.7" r="14.5"/><circle cx="1954.9" cy="2759.5" r="14.5"/><circle cx="2072.7" cy="2847.8" r="14.5"/><circle cx="2159" cy="2872" r="14.5"/><circle cx="2275.9" cy="2875" r="14.5"/><circle cx="2362.5" cy="2875.4" r="14.5"/></g>
<path d="M327.3 2875.4 L421.6 2856 L536.7 2849 L652.6 2818.5 L741 2732 L826.7 2686 L943.1 2633 L1030 2518 L1144.9 2412 L1232.7 2227 L1348.2 2160.8 L1434.5 2143 L1550.8 2275 L1637.9 2524.4 L1754 2582.7 L1840.8 2665.2 L1954.9 2777.1 L2043.2 2828.7 L2072.7 2874.4 L2159.4 2876 L2275.9 2876 L2362.5 2875.4" fill="none" stroke="#682490" stroke-width="5.5" stroke-linejoin="round"/>
<g fill="#8800ff"><circle cx="327.3" cy="2875.4" r="14.5"/><circle cx="421.6" cy="2856" r="14.5"/><circle cx="536.7" cy="2849" r="14.5"/><circle cx="652.6" cy="2818.5" r="14.5"/><circle cx="741" cy="2732" r="14.5"/><circle cx="826.7" cy="2686" r="14.5"/><circle cx="943.1" cy="2633" r="14.5"/><circle cx="1030" cy="2518" r="14.5"/><circle cx="1144.9" cy="2412" r="14.5"/><circle cx="1232.7" cy="2227" r="14.5"/><circle cx="1348.2" cy="2160.8" r="14.5"/><circle cx="1434.5" cy="2143" r="14.5"/><circle cx="1550.8" cy="2275" r="14.5"/><circle cx="1637.9" cy="2524.4" r="14.5"/><circle cx="1754" cy="2582.7" r="14.5"/><circle cx="1840.8" cy="2665.2" r="14.5"/><circle cx="1954.9" cy="2777.1" r="14.5"/><circle cx="2043.2" cy="2828.7" r="14.5"/><circle cx="2072.7" cy="2874.4" r="14.5"/><circle cx="2159.4" cy="2876" r="14.5"/><circle cx="2275.9" cy="2876" r="14.5"/><circle cx="2362.5" cy="2875.4" r="14.5"/></g>
<path d="M324.6 1626.5 H2362.5 V2878.2" stroke="#000" stroke-width="5.5" fill="none"/><line x1="384.2" y1="1713.6" x2="525.6" y2="1713.6" stroke="#000000" stroke-width="5.5"/><circle cx="454.9" cy="1713.6" r="14.5" fill="#000000"/>
<text x="547" y="1733.6" font-family="'Liberation Serif', serif" font-size="75">WFR for all landslides</text><line x1="384.2" y1="1808" x2="525.6" y2="1808" stroke="#a82626" stroke-width="5.5"/><circle cx="454.9" cy="1808" r="14.5" fill="#ff0000"/>
<text x="547" y="1828" font-family="'Liberation Serif', serif" font-size="75">WFR without landslide typology</text><line x1="384.2" y1="1902.2" x2="525.6" y2="1902.2" stroke="#1e1e7c" stroke-width="5.5"/><circle cx="454.9" cy="1902.2" r="14.5" fill="#0000ff"/>
<text x="559" y="1922.2" font-family="'Liberation Serif', serif" font-size="75">LR model</text><line x1="384.2" y1="1996.5" x2="525.6" y2="1996.5" stroke="#00be55" stroke-width="5.5"/><circle cx="454.9" cy="1996.5" r="14.5" fill="#00f800"/>
<text x="559" y="2016.5" font-family="'Liberation Serif', serif" font-size="75"><tspan letter-spacing="3.5">FAHP</tspan> model</text><line x1="384.2" y1="2090.8" x2="525.6" y2="2090.8" stroke="#682490" stroke-width="5.5"/><circle cx="454.9" cy="2090.8" r="14.5" fill="#8800ff"/>
<text x="559" y="2110.8" font-family="'Liberation Serif', serif" font-size="75">FR model</text><text x="292" y="2898.4" font-family="'Liberation Serif', serif" font-size="77" text-anchor="end">0.50</text><text x="292" y="2648.6" font-family="'Liberation Serif', serif" font-size="77" text-anchor="end">0.55</text><text x="292" y="2398.8" font-family="'Liberation Serif', serif" font-size="77" text-anchor="end">0.60</text><text x="292" y="2149.1" font-family="'Liberation Serif', serif" font-size="77" text-anchor="end">0.65</text><text x="292" y="1899.3" font-family="'Liberation Serif', serif" font-size="77" text-anchor="end">0.70</text><text x="292" y="1649.5" font-family="'Liberation Serif', serif" font-size="77" text-anchor="end">0.75</text><text x="327.3" y="2969" font-family="'Liberation Serif', serif" font-size="77" text-anchor="middle">0</text><text x="530.8" y="2969" font-family="'Liberation Serif', serif" font-size="77" text-anchor="middle">10</text><text x="734.3" y="2969" font-family="'Liberation Serif', serif" font-size="77" text-anchor="middle">20</text><text x="937.9" y="2969" font-family="'Liberation Serif', serif" font-size="77" text-anchor="middle">30</text><text x="1141.4" y="2969" font-family="'Liberation Serif', serif" font-size="77" text-anchor="middle">40</text><text x="1344.9" y="2969" font-family="'Liberation Serif', serif" font-size="77" text-anchor="middle">50</text><text x="1548.4" y="2969" font-family="'Liberation Serif', serif" font-size="77" text-anchor="middle">60</text><text x="1751.9" y="2969" font-family="'Liberation Serif', serif" font-size="77" text-anchor="middle">70</text><text x="1955.5" y="2969" font-family="'Liberation Serif', serif" font-size="77" text-anchor="middle">80</text><text x="2159" y="2969" font-family="'Liberation Serif', serif" font-size="77" text-anchor="middle">90</text><text x="2362.5" y="2969" font-family="'Liberation Serif', serif" font-size="77" text-anchor="middle">100</text><text x="466" y="3088" font-family="'Liberation Serif', serif" font-size="76.5" xml:space="preserve">percentage of <tspan font-style="italic">LSI</tspan> threshold from low to high values  (%)</text><text transform="translate(101 2249) rotate(-90)" font-family="'Liberation Serif', serif" font-size="85.5" text-anchor="middle">accuracy</text><text x="34" y="1645" font-family="'Liberation Serif', serif" font-size="84">b)</text></svg>
</body></html>
